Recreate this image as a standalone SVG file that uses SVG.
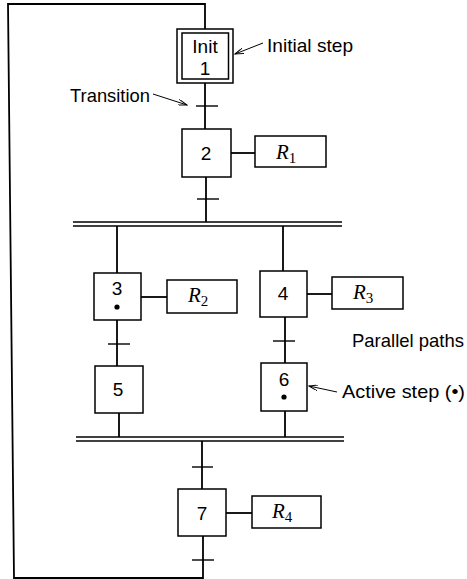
<svg xmlns="http://www.w3.org/2000/svg" width="467" height="579" viewBox="0 0 467 579">
<defs>
<style>
.ln{stroke:#000;stroke-width:1.8;fill:none}
.tb{stroke:#000;stroke-width:1.4;fill:none}
.bx{stroke:#000;stroke-width:1.5;fill:#fff}
.bar{stroke:#000;stroke-width:1.3}
.lbl{font-family:"Liberation Sans",Arial,sans-serif;font-size:19px;fill:#000}
.num{font-family:"Liberation Sans",Arial,sans-serif;font-size:19px;fill:#000;text-anchor:middle}
.r{font-family:"Liberation Serif","Times New Roman",serif;font-style:italic;font-size:21px;fill:#000}
.sub{font-family:"Liberation Serif","Times New Roman",serif;font-style:normal;font-size:15px}
.ar{stroke:#000;stroke-width:1;fill:none}
</style>
<marker id="ah" markerWidth="10" markerHeight="6" refX="9" refY="3" orient="auto" markerUnits="userSpaceOnUse">
<path d="M0,0 L9,3 L0,6" fill="none" stroke="#000" stroke-width="1"/>
</marker>
</defs>

<g id="connectors">
<path class="ln" d="M205,29 V4 H8 L14,578 H203 V536"/>
<path class="ln" d="M205,83 V129"/>
<path class="ln" d="M206,177 V222"/>
<path class="ln" d="M231,153 H255"/>
<path class="ln" d="M117,226 V273"/>
<path class="ln" d="M117,320 V366"/>
<path class="ln" d="M141,297 H167"/>
<path class="ln" d="M119,413 V437"/>
<path class="ln" d="M283,226 V271"/>
<path class="ln" d="M285,317 V363"/>
<path class="ln" d="M307,294 H332"/>
<path class="ln" d="M285,411 V437"/>
<path class="ln" d="M202,441 V489"/>
<path class="ln" d="M226,513 H252"/>
<line class="bar" x1="73" y1="222" x2="342" y2="222"/>
<line class="bar" x1="73" y1="226" x2="342" y2="226"/>
<line class="bar" x1="76" y1="437" x2="344" y2="437"/>
<line class="bar" x1="76" y1="441" x2="344" y2="441"/>
<line class="tb" x1="196" y1="106" x2="218" y2="106"/>
<line class="tb" x1="197" y1="199" x2="219" y2="199"/>
<line class="tb" x1="108" y1="344" x2="130" y2="344"/>
<line class="tb" x1="273" y1="341" x2="295" y2="341"/>
<line class="tb" x1="192" y1="467" x2="213" y2="467"/>
<line class="tb" x1="192" y1="560" x2="214" y2="560"/>
<line class="ar" x1="153" y1="94" x2="187" y2="105" marker-end="url(#ah)"/>
<line class="ar" x1="263" y1="43" x2="235" y2="54" marker-end="url(#ah)"/>
<line class="ar" x1="337" y1="392" x2="309" y2="386" marker-end="url(#ah)"/>
</g>

<g id="step1">
<rect class="bx" x="177" y="29" width="56" height="54"/>
<rect class="bx" x="182" y="33" width="46.5" height="46"/>
<text class="num" x="205" y="53">Init</text>
<text class="num" x="205" y="75">1</text>
</g>
<g id="step2">
<rect class="bx" x="182" y="129" width="49" height="48"/>
<text class="num" x="206" y="160">2</text>
</g>
<g id="action1">
<rect class="bx" x="255" y="136" width="71" height="31"/>
<text class="r" x="276" y="159">R<tspan class="sub" dy="4">1</tspan></text>
</g>
<g id="step3">
<rect class="bx" x="94" y="273" width="47" height="47"/>
<text class="num" x="117" y="295">3</text>
<circle cx="117" cy="307" r="2.6" fill="#000"/>
</g>
<g id="action2">
<rect class="bx" x="167" y="280" width="70" height="33"/>
<text class="r" x="188" y="302">R<tspan class="sub" dy="4">2</tspan></text>
</g>
<g id="step4">
<rect class="bx" x="260" y="271" width="47" height="46"/>
<text class="num" x="283" y="300">4</text>
</g>
<g id="action3">
<rect class="bx" x="332" y="277" width="71" height="32"/>
<text class="r" x="353" y="299">R<tspan class="sub" dy="4">3</tspan></text>
</g>
<g id="step5">
<rect class="bx" x="95" y="366" width="48" height="47"/>
<text class="num" x="118" y="396">5</text>
</g>
<g id="step6">
<rect class="bx" x="261" y="363" width="46" height="48"/>
<text class="num" x="284" y="386">6</text>
<circle cx="284" cy="397" r="2.6" fill="#000"/>
</g>
<g id="step7">
<rect class="bx" x="178" y="489" width="48" height="47"/>
<text class="num" x="202" y="520">7</text>
</g>
<g id="action4">
<rect class="bx" x="252" y="496" width="69" height="32"/>
<text class="r" x="272" y="518">R<tspan class="sub" dy="4">4</tspan></text>
</g>

<g id="labels">
<text class="lbl" x="70" y="102" textLength="80" lengthAdjust="spacingAndGlyphs">Transition</text>
<text class="lbl" x="267" y="52" textLength="86" lengthAdjust="spacingAndGlyphs">Initial step</text>
<text class="lbl" x="352" y="347" textLength="112" lengthAdjust="spacingAndGlyphs">Parallel paths</text>
<text class="lbl" x="342" y="398" textLength="123" lengthAdjust="spacingAndGlyphs">Active step (•)</text>
</g>
</svg>
